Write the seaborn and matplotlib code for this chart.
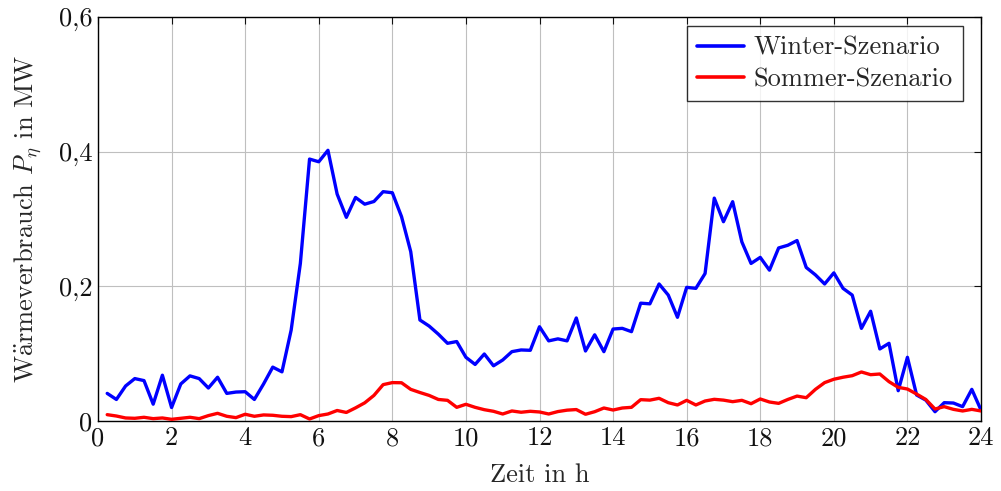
import numpy as np
import pandas as pd
import matplotlib
matplotlib.use("Agg")
import matplotlib.pyplot as plt
import seaborn as sns

# Zeitachse: 15-Minuten-Werte von 0,25 h bis 24 h
zeit = np.arange(1, 97) * 0.25

winter = [0.041, 0.032, 0.052, 0.063, 0.060, 0.025, 0.068, 0.020,
          0.055, 0.067, 0.063, 0.049, 0.065, 0.041, 0.043, 0.0435,
          0.032, 0.055, 0.080, 0.073, 0.135, 0.234, 0.389, 0.385,
          0.402, 0.337, 0.3025, 0.332, 0.322, 0.326, 0.3406, 0.339,
          0.3035, 0.2515, 0.150, 0.141, 0.129, 0.1154, 0.118, 0.0946,
          0.084, 0.0995, 0.082, 0.0906, 0.103, 0.1055, 0.105, 0.140,
          0.119, 0.122, 0.119, 0.153, 0.104, 0.128, 0.103, 0.1366,
          0.1376, 0.1327, 0.175, 0.174, 0.2035, 0.187, 0.154, 0.1985,
          0.197, 0.219, 0.331, 0.296, 0.3257, 0.266, 0.234, 0.243,
          0.224, 0.257, 0.261, 0.268, 0.228, 0.217, 0.2035, 0.220,
          0.197, 0.187, 0.1376, 0.163, 0.107, 0.1154, 0.045, 0.0946,
          0.0386, 0.031, 0.0138, 0.0272, 0.0267, 0.0213, 0.047, 0.0163]

sommer = [0.0094, 0.0074, 0.0045, 0.004, 0.0055, 0.0035, 0.0045, 0.0025,
          0.004, 0.0055, 0.0035, 0.008, 0.0114, 0.007, 0.005, 0.010,
          0.007, 0.009, 0.0085, 0.007, 0.0065, 0.0094, 0.0030, 0.008,
          0.0104, 0.0156, 0.0127, 0.0195, 0.027, 0.038, 0.054, 0.057,
          0.0568, 0.047, 0.0423, 0.038, 0.032, 0.0307, 0.0203, 0.0248,
          0.0203, 0.0168, 0.0144, 0.0104, 0.0149, 0.013, 0.0144, 0.0134,
          0.0104, 0.014, 0.0161, 0.0170, 0.010, 0.0138, 0.0193, 0.0163,
          0.0193, 0.0203, 0.0317, 0.031, 0.0337, 0.0272, 0.0238, 0.0307,
          0.0238, 0.0297, 0.0322, 0.031, 0.0287, 0.0307, 0.0257, 0.0327,
          0.0282, 0.0262, 0.032, 0.037, 0.0346, 0.047, 0.057, 0.062,
          0.065, 0.0673, 0.0728, 0.0688, 0.0698, 0.0584, 0.050, 0.0475,
          0.040, 0.032, 0.0178, 0.0213, 0.0173, 0.0149, 0.0173, 0.0149]

x_ticks = [0, 2, 4, 6, 8, 10, 12, 14, 16, 18, 20, 22, 24]
y_ticks = [0, 0.2, 0.4, 0.6]
y_labels = ["0", "0,2", "0,4", "0,6"]

df = pd.DataFrame({
    "Zeit": np.concatenate([zeit, zeit]),
    "P": winter + sommer,
    "Szenario": ["Winter-Szenario"] * len(zeit) + ["Sommer-Szenario"] * len(zeit),
})

sns.set_style("white")
plt.rcParams["font.family"] = ["cmr10", "DejaVu Serif"]
plt.rcParams["mathtext.fontset"] = "cm"
plt.rcParams["axes.formatter.use_mathtext"] = True
plt.rcParams["axes.unicode_minus"] = False

fs = 19
fig, ax = plt.subplots(figsize=(10.01, 4.91), dpi=100)
fig.subplots_adjust(left=98 / 1001, right=981 / 1001, top=1 - 17 / 491, bottom=1 - 421 / 491)

sns.lineplot(data=df, x="Zeit", y="P", hue="Szenario",
             palette={"Winter-Szenario": "#0000ff", "Sommer-Szenario": "#ff0000"},
             linewidth=2.4, ax=ax, zorder=3)

ax.set_xlim(0, 24)
ax.set_ylim(0, 0.6)
ax.set_xticks(x_ticks)
ax.set_xticklabels([str(t) for t in x_ticks])
ax.set_yticks(y_ticks)
ax.set_yticklabels(y_labels)
ax.grid(True, color="#bfbfbf", linewidth=0.8)
ax.tick_params(direction="in", length=5, width=0.8, top=True, right=True,
               labelsize=fs, colors="#111111", pad=4)
for s in ax.spines.values():
    s.set_color("black")
    s.set_linewidth(1.0)

ax.set_xlabel("Zeit in h", fontsize=fs, labelpad=9)
ax.set_ylabel(r"W$\ddot{\rm a}$rmeverbrauch $P_\eta$ in MW", fontsize=fs, labelpad=11)

leg = ax.legend(loc="upper right", bbox_to_anchor=(0.9796, 0.9777), borderaxespad=0,
                fontsize=fs, frameon=True, fancybox=False, edgecolor="black",
                handlelength=1.8, handletextpad=0.35, labelspacing=0.3, borderpad=0.38)
leg.get_frame().set_linewidth(1.0)
for h in leg.get_lines():
    h.set_linewidth(2.6)

fig.savefig("out.png", dpi=100)
